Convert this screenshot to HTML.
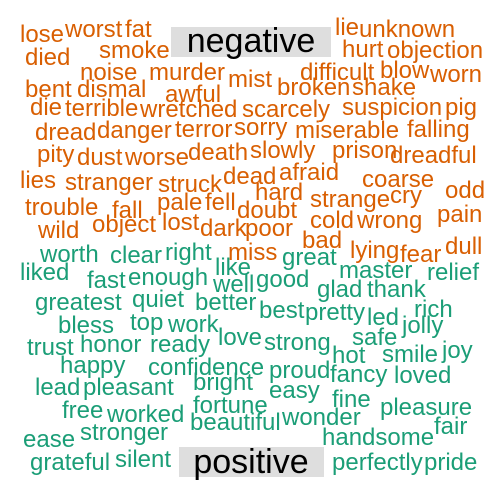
<!DOCTYPE html>
<html><head><meta charset="utf-8"><style>
html,body{margin:0;padding:0;background:#fff;}
svg{display:block;}
text{font-family:"Liberation Sans",Arial,sans-serif;}
</style></head><body>
<svg id="cloud" width="504" height="504" viewBox="0 0 504 504" xmlns="http://www.w3.org/2000/svg">
<rect x="171" y="27" width="160" height="30" fill="#dedede"/>
<text x="251" y="52" font-size="34" text-anchor="middle" fill="#000">negative</text>
<rect x="179" y="447" width="145" height="30" fill="#dedede"/>
<text x="251" y="473" font-size="34" text-anchor="middle" fill="#000">positive</text>
</svg>
<script>
const negWords=["lose","worst","fat","died","smoke","noise","murder","bent","dismal","awful","die","terrible","wretched","dread","danger","terror","pity","dust","worse","death","lies","stranger","struck","trouble","fall","pale","fell","wild","object","lost","dark","mist","lie","unknown","hurt","objection","difficult","blow","worn","broken","shake","scarcely","suspicion","pig","sorry","miserable","falling","slowly","prison","dreadful","dead","afraid","coarse","hard","strange","cry","odd","doubt","pain","cold","wrong","poor","bad","lying","fear","dull","miss"];
const negX=[20,65,125,25,99,80,149,25,77,165,30,65,140,35,97,175,37,77,125,188,20,65,158,25,112,157,205,38,92,162,200,228,335,359,342,387,300,380,430,277,352,242,342,445,234,295,407,250,332,390,223,279,362,255,310,390,445,237,437,310,357,245,302,350,400,445,228];
const negY=[42,37,37,65,58,80,80,97,97,102,115,116,117,140,138,137,162,165,165,160,188,190,192,215,218,210,210,238,232,230,236,87,35,37,57,58,80,78,82,95,95,117,115,115,135,138,137,158,158,163,184,180,187,200,207,203,198,218,222,228,228,236,248,258,262,254,260];
const posWords=["worth","clear","right","liked","fast","enough","like","well","greatest","quiet","better","bless","top","work","love","trust","honor","ready","happy","confidence","bright","lead","pleasant","fortune","free","worked","beautiful","ease","stronger","grateful","silent","great","good","master","relief","glad","thank","best","pretty","led","rich","jolly","safe","strong","hot","smile","joy","proud","fancy","loved","easy","fine","pleasure","wonder","fair","handsome","perfectly","pride"];
const posX=[40,110,165,20,87,128,215,213,35,132,195,58,130,168,218,27,80,150,60,148,193,35,83,193,62,107,190,23,80,30,115,282,256,339,427,317,367,259,305,367,414,402,352,264,332,382,442,269,330,394,269,332,380,282,434,322,332,424];
const posY=[262,263,260,280,288,285,275,292,310,307,310,333,330,332,345,355,352,352,373,375,390,395,395,413,418,422,430,447,440,470,467,265,287,278,280,297,297,318,320,325,317,333,345,350,363,362,358,378,382,383,398,407,415,425,434,445,470,470];
const svg=document.getElementById('cloud');
function add(words,xs,ys,color,group){
  for(let i=0;i<words.length;i++){
    const t=document.createElementNS('http://www.w3.org/2000/svg','text');
    t.setAttribute('x',xs[i]);t.setAttribute('y',ys[i]);
    t.setAttribute('font-size','24');t.setAttribute('fill',color);
    t.textContent=words[i];
    
    
    svg.appendChild(t);
  }
}
add(negWords,negX,negY,'#D95F02','negative');
add(posWords,posX,posY,'#1B9E77','positive');
</script>
</body></html>
